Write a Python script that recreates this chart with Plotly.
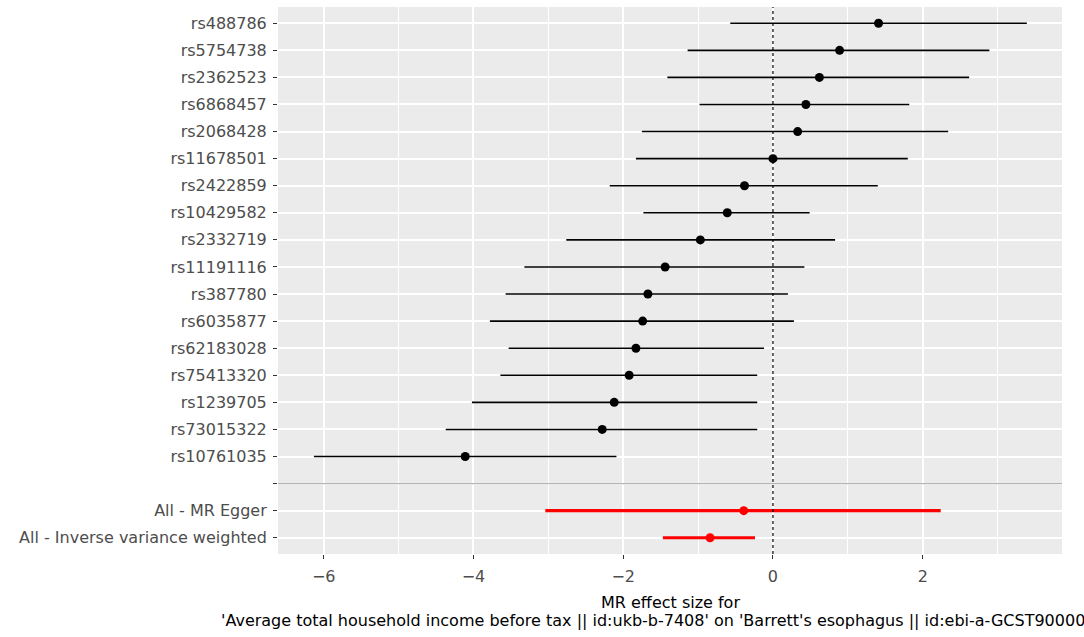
import plotly.graph_objects as go

# ---- data ----
snps = ["rs488786", "rs5754738", "rs2362523", "rs6868457", "rs2068428",
        "rs11678501", "rs2422859", "rs10429582", "rs2332719", "rs11191116",
        "rs387780", "rs6035877", "rs62183028", "rs75413320", "rs1239705",
        "rs73015322", "rs10761035"]
snp_b = [1.41, 0.89, 0.62, 0.44, 0.33, 0.00, -0.38, -0.61, -0.97, -1.44,
         -1.67, -1.74, -1.83, -1.92, -2.12, -2.28, -4.11]
snp_lo = [-0.57, -1.14, -1.41, -0.98, -1.75, -1.83, -2.18, -1.73, -2.76, -3.32,
          -3.57, -3.78, -3.53, -3.64, -4.02, -4.37, -6.13]
snp_hi = [3.39, 2.89, 2.62, 1.82, 2.34, 1.80, 1.40, 0.49, 0.83, 0.42,
          0.20, 0.28, -0.12, -0.21, -0.21, -0.21, -2.09]

summary_labels = ["All - MR Egger", "All - Inverse variance weighted"]
summary_b = [-0.39, -0.84]
summary_lo = [-3.04, -1.47]
summary_hi = [2.24, -0.24]

separator_label = ""
x_ticks = [-6, -4, -2, 0, 2]
x_title_1 = "MR effect size for"
x_title_2 = ("'Average total household income before tax || id:ukb-b-7408' on "
             "'Barrett's esophagus || id:ebi-a-GCST90000515'")

# ---- derived ----
labels = snps + [separator_label] + summary_labels
positions = list(range(len(labels)))
snp_y = positions[:len(snps)]
sep_y = positions[len(snps)]
sum_y = positions[len(snps) + 1:]

FONT = "DejaVu Sans"
FS = 16

fig = go.Figure()

fig.add_trace(go.Scatter(
    x=snp_b, y=snp_y, mode="markers",
    marker=dict(color="black", size=9),
    error_x=dict(type="data", symmetric=False,
                 array=[h - b for h, b in zip(snp_hi, snp_b)],
                 arrayminus=[b - l for b, l in zip(snp_b, snp_lo)],
                 color="black", thickness=1.6, width=0),
    showlegend=False, hoverinfo="x+y"))

fig.add_trace(go.Scatter(
    x=summary_b, y=sum_y, mode="markers",
    marker=dict(color="red", size=9),
    error_x=dict(type="data", symmetric=False,
                 array=[h - b for h, b in zip(summary_hi, summary_b)],
                 arrayminus=[b - l for b, l in zip(summary_b, summary_lo)],
                 color="red", thickness=3.2, width=0),
    showlegend=False, hoverinfo="x+y"))

# zero reference line and separator line
fig.add_shape(type="line", xref="x", yref="paper", x0=0, x1=0, y0=0, y1=1,
              line=dict(color="black", width=1.2, dash="dot"), layer="above")
fig.add_shape(type="line", xref="paper", yref="y", x0=0, x1=1, y0=sep_y, y1=sep_y,
              line=dict(color="#B3B3B3", width=1.2), layer="above")

n = len(labels)
fig.update_layout(
    width=1084, height=637,
    margin=dict(l=278, r=22, t=7, b=83),
    paper_bgcolor="white", plot_bgcolor="#EBEBEB",
    font=dict(family=FONT, size=FS, color="#4D4D4D"),
    xaxis=dict(range=[-6.61, 3.86], tickvals=x_ticks, automargin=False,
               ticks="outside", ticklen=4, tickwidth=1, tickcolor="#333333",
               ticklabelstandoff=4,
               showgrid=True, gridcolor="white", gridwidth=1.6,
               minor=dict(dtick=1, tick0=-7, showgrid=True, gridcolor="white", gridwidth=0.8),
               zeroline=False, showline=False,
               tickfont=dict(family=FONT, size=FS, color="#4D4D4D")),
    yaxis=dict(range=[n - 1 + 0.6, -0.6], tickmode="array", automargin=False,
               tickvals=positions, ticktext=labels,
               ticks="outside", ticklen=4, tickwidth=1, tickcolor="#333333",
               ticklabelstandoff=3,
               showgrid=True, gridcolor="white", gridwidth=1.6,
               zeroline=False, showline=False,
               tickfont=dict(family=FONT, size=FS, color="#4D4D4D")),
    annotations=[
        dict(text=x_title_1, xref="paper", yref="paper", x=0.5, y=0,
             xanchor="center", yanchor="middle", yshift=-48, showarrow=False,
             font=dict(family=FONT, size=FS, color="black")),
        dict(text=x_title_2, xref="paper", yref="paper", x=0.5, y=0,
             xanchor="center", yanchor="middle", yshift=-66, showarrow=False,
             font=dict(family=FONT, size=FS, color="black")),
    ],
)

fig.write_html("out.html",
               config={"displayModeBar": False},
               post_script="document.body.style.margin='0';document.body.style.overflow='hidden';")
